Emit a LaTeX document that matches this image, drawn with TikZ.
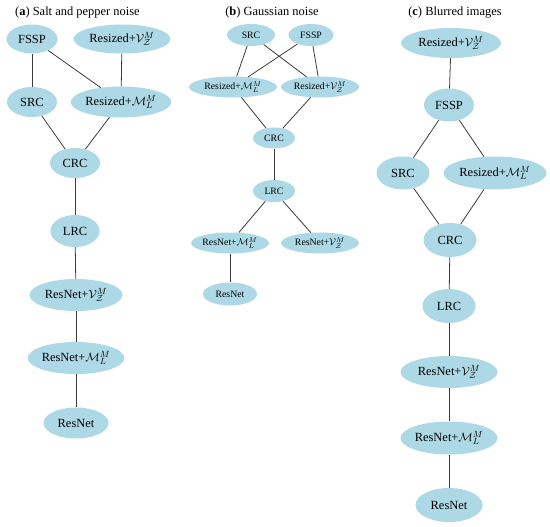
\documentclass[tikz,border=0pt]{standalone}
\usepackage{fontspec}
\setmainfont{Liberation Serif}
\usetikzlibrary{shapes.geometric}
\definecolor{nodeblue}{RGB}{173,216,230}
\definecolor{edgegray}{RGB}{60,60,60}
\tikzset{
  nd/.style={ellipse, fill=nodeblue, inner sep=0pt, font=\fontsize{12.5}{14}\selectfont},
  ndsmall/.style={ellipse, fill=nodeblue, inner sep=0pt, font=\fontsize{9.8}{11}\selectfont},
  ttl/.style={inner sep=0pt, font=\fontsize{12.5}{14}\selectfont},
  edge/.style={draw=edgegray, line width=0.8bp},
}
\newcommand{\RV}{Resized+$\mathcal{V}^{M}_{\mathcal{Z}}$}
\newcommand{\RM}{Resized+$\mathcal{M}^{M}_{L}$}
\newcommand{\NV}{ResNet+$\mathcal{V}^{M}_{\mathcal{Z}}$}
\newcommand{\NM}{ResNet+$\mathcal{M}^{M}_{L}$}
\begin{document}
\begin{tikzpicture}[x=1bp,y=-1bp]
\useasboundingbox (0,0) rectangle (550,527);
% ---------- (a) ----------
\node[ttl, anchor=west] (ta) at (15,13) {(\textbf{a}) Salt and pepper noise};
\node[nd, minimum width=51bp, minimum height=29bp] (aFSSP) at (32,39) {FSSP};
\node[nd, minimum width=97bp, minimum height=29bp] (aRV) at (122,39) {\RV};
\node[nd, minimum width=50bp, minimum height=30bp] (aSRC) at (32,102) {SRC};
\node[nd, minimum width=98bp, minimum height=31bp] (aRM) at (121,102) {\RM};
\node[nd, minimum width=50bp, minimum height=30bp] (aCRC) at (75,163) {CRC};
\node[nd, minimum width=49bp, minimum height=32bp] (aLRC) at (75,231) {LRC};
\node[nd, minimum width=93bp, minimum height=32bp] (aNV) at (76,295) {\NV};
\node[nd, minimum width=95bp, minimum height=32bp] (aNM) at (76,358) {\NM};
\node[nd, minimum width=65bp, minimum height=31bp] (aN) at (76,423) {ResNet};
\draw[edge] (aFSSP) -- (aSRC);
\draw[edge] (aFSSP) -- (aRM);
\draw[edge] (aRV) -- (aRM);
\draw[edge] (aSRC) -- (aCRC);
\draw[edge] (aRM) -- (aCRC);
\draw[edge] (aCRC) -- (aLRC);
\draw[edge] (aLRC) -- (aNV);
\draw[edge] (aNV) -- (aNM);
\draw[edge] (aNM) -- (aN);
% ---------- (b) ----------
\node[ttl] (tb) at (272,13) {(\textbf{b}) Gaussian noise};
\node[ndsmall, minimum width=48bp, minimum height=22bp] (bSRC) at (251,35) {SRC};
\node[ndsmall, minimum width=45bp, minimum height=22bp] (bFSSP) at (311,35) {FSSP};
\node[ndsmall, minimum width=88bp, minimum height=21bp] (bRM) at (233,87) {\RM};
\node[ndsmall, minimum width=78bp, minimum height=21bp] (bRV) at (320,87) {\RV};
\node[ndsmall, minimum width=42bp, minimum height=21bp] (bCRC) at (274,138) {CRC};
\node[ndsmall, minimum width=42bp, minimum height=22bp] (bLRC) at (274,191) {LRC};
\node[ndsmall, minimum width=77bp, minimum height=21bp] (bNM) at (230,243) {\NM};
\node[ndsmall, minimum width=78bp, minimum height=21bp] (bNV) at (320,243) {\NV};
\node[ndsmall, minimum width=54bp, minimum height=23bp] (bN) at (230,294) {ResNet};
\draw[edge] (bSRC) -- (bRM);
\draw[edge] (bSRC) -- (bRV);
\draw[edge] (bFSSP) -- (bRM);
\draw[edge] (bFSSP) -- (bRV);
\draw[edge] (bRM) -- (bCRC);
\draw[edge] (bRV) -- (bCRC);
\draw[edge] (bCRC) -- (bLRC);
\draw[edge] (bLRC) -- (bNM);
\draw[edge] (bLRC) -- (bNV);
\draw[edge] (bNM) -- (bN);
% ---------- (c) ----------
\node[ttl] (tc) at (455,13) {(\textbf{c}) Blurred images};
\node[nd, minimum width=100bp, minimum height=30bp] (cRV) at (451,43) {\RV};
\node[nd, minimum width=50bp, minimum height=33bp] (cFSSP) at (449,105) {FSSP};
\node[nd, minimum width=53bp, minimum height=33bp] (cSRC) at (403,173) {SRC};
\node[nd, minimum width=103bp, minimum height=33bp] (cRM) at (495,173) {\RM};
\node[nd, minimum width=53bp, minimum height=34bp] (cCRC) at (450,240) {CRC};
\node[nd, minimum width=53bp, minimum height=34bp] (cLRC) at (449,306) {LRC};
\node[nd, minimum width=97bp, minimum height=32bp] (cNV) at (449,372) {\NV};
\node[nd, minimum width=97bp, minimum height=33bp] (cNM) at (449,438) {\NM};
\node[nd, minimum width=67bp, minimum height=34bp] (cN) at (449,505) {ResNet};
\draw[edge] (cRV) -- (cFSSP);
\draw[edge] (cFSSP) -- (cSRC);
\draw[edge] (cFSSP) -- (cRM);
\draw[edge] (cSRC) -- (cCRC);
\draw[edge] (cRM) -- (cCRC);
\draw[edge] (cCRC) -- (cLRC);
\draw[edge] (cLRC) -- (cNV);
\draw[edge] (cNV) -- (cNM);
\draw[edge] (cNM) -- (cN);
\end{tikzpicture}
\end{document}
